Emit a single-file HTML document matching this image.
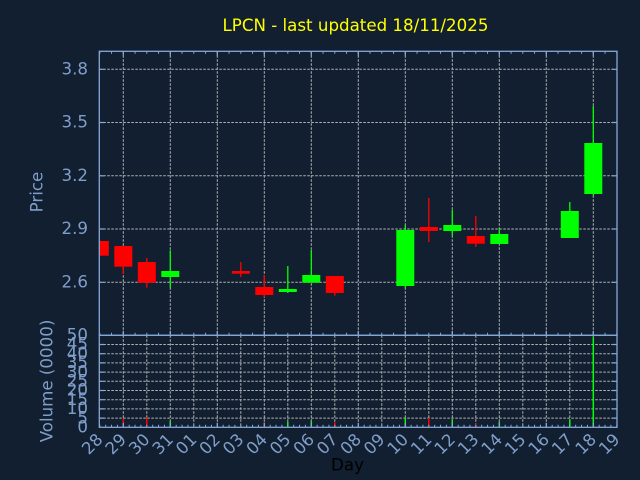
<!DOCTYPE html>
<html>
<head>
<meta charset="utf-8">
<style>
  html, body { margin:0; padding:0; background:#111f30; }
  svg { display:block; }
  text { font-family: "DejaVu Sans", "Liberation Sans", sans-serif; font-size:16.67px; }
  .lbl { fill:#7f9ec9; }
  .grid { stroke:#b4b4b4; stroke-width:1; stroke-dasharray:2.5 1.5; fill:none; }
  .spine { stroke:#85a8d8; stroke-width:1.3; fill:none; }
  .tick { stroke:#85a8d8; fill:none; }
</style>
</head>
<body>
<svg width="640" height="480" viewBox="0 0 640 480" xmlns="http://www.w3.org/2000/svg">
  <rect x="0" y="0" width="640" height="480" fill="#111f30"/>
  <defs>
    <clipPath id="mainclip"><rect x="99.3" y="51.3" width="517.7" height="284"/></clipPath>
  </defs>

  <!-- Title -->
  <text x="355.5" y="31" text-anchor="middle" fill="#ffff00">LPCN - last updated 18/11/2025</text>

  <!-- Main panel horizontal gridlines -->
  <g class="grid">
    <line x1="99.3" y1="69.3" x2="617" y2="69.3"/>
    <line x1="99.3" y1="122.5" x2="617" y2="122.5"/>
    <line x1="99.3" y1="175.8" x2="617" y2="175.8"/>
    <line x1="99.3" y1="229" x2="617" y2="229"/>
    <line x1="99.3" y1="282.3" x2="617" y2="282.3"/>
  </g>
  <!-- Main panel vertical gridlines (every 2 days) -->
  <g class="grid">
    <line x1="123.3" y1="51.3" x2="123.3" y2="335.3"/>
    <line x1="170.3" y1="51.3" x2="170.3" y2="335.3"/>
    <line x1="217.3" y1="51.3" x2="217.3" y2="335.3"/>
    <line x1="264.3" y1="51.3" x2="264.3" y2="335.3"/>
    <line x1="311.3" y1="51.3" x2="311.3" y2="335.3"/>
    <line x1="358.3" y1="51.3" x2="358.3" y2="335.3"/>
    <line x1="405.3" y1="51.3" x2="405.3" y2="335.3"/>
    <line x1="452.3" y1="51.3" x2="452.3" y2="335.3"/>
    <line x1="499.3" y1="51.3" x2="499.3" y2="335.3"/>
    <line x1="546.3" y1="51.3" x2="546.3" y2="335.3"/>
    <line x1="593.3" y1="51.3" x2="593.3" y2="335.3"/>
  </g>

  <!-- Volume panel horizontal gridlines -->
  <g class="grid">
    <line x1="99.3" y1="418.1" x2="617" y2="418.1"/>
    <line x1="99.3" y1="408.9" x2="617" y2="408.9"/>
    <line x1="99.3" y1="399.7" x2="617" y2="399.7"/>
    <line x1="99.3" y1="390.5" x2="617" y2="390.5"/>
    <line x1="99.3" y1="381.3" x2="617" y2="381.3"/>
    <line x1="99.3" y1="372.1" x2="617" y2="372.1"/>
    <line x1="99.3" y1="362.9" x2="617" y2="362.9"/>
    <line x1="99.3" y1="353.7" x2="617" y2="353.7"/>
    <line x1="99.3" y1="344.5" x2="617" y2="344.5"/>
  </g>
  <!-- Volume panel vertical gridlines (every day) -->
  <g class="grid">
    <line x1="123.3" y1="335.3" x2="123.3" y2="427.3"/>
    <line x1="146.8" y1="335.3" x2="146.8" y2="427.3"/>
    <line x1="170.3" y1="335.3" x2="170.3" y2="427.3"/>
    <line x1="193.8" y1="335.3" x2="193.8" y2="427.3"/>
    <line x1="217.3" y1="335.3" x2="217.3" y2="427.3"/>
    <line x1="240.8" y1="335.3" x2="240.8" y2="427.3"/>
    <line x1="264.3" y1="335.3" x2="264.3" y2="427.3"/>
    <line x1="287.8" y1="335.3" x2="287.8" y2="427.3"/>
    <line x1="311.3" y1="335.3" x2="311.3" y2="427.3"/>
    <line x1="334.8" y1="335.3" x2="334.8" y2="427.3"/>
    <line x1="358.3" y1="335.3" x2="358.3" y2="427.3"/>
    <line x1="381.8" y1="335.3" x2="381.8" y2="427.3"/>
    <line x1="405.3" y1="335.3" x2="405.3" y2="427.3"/>
    <line x1="428.8" y1="335.3" x2="428.8" y2="427.3"/>
    <line x1="452.3" y1="335.3" x2="452.3" y2="427.3"/>
    <line x1="475.8" y1="335.3" x2="475.8" y2="427.3"/>
    <line x1="499.3" y1="335.3" x2="499.3" y2="427.3"/>
    <line x1="522.8" y1="335.3" x2="522.8" y2="427.3"/>
    <line x1="546.3" y1="335.3" x2="546.3" y2="427.3"/>
    <line x1="569.8" y1="335.3" x2="569.8" y2="427.3"/>
    <line x1="593.3" y1="335.3" x2="593.3" y2="427.3"/>
  </g>

  <!-- Candles -->
  <g clip-path="url(#mainclip)">
    <!-- red -->
    <g fill="#ff0000" stroke="none">
      <rect x="90.8" y="241" width="18" height="14.7"/>
      <rect x="114.3" y="246" width="18" height="20.7"/>
      <rect x="122.65" y="266" width="1.3" height="8"/>
      <rect x="137.8" y="262" width="18" height="20.7"/>
      <rect x="146.15" y="258" width="1.3" height="29.7"/>
      <rect x="231.8" y="271" width="18" height="2.7"/>
      <rect x="240.15" y="262" width="1.3" height="15"/>
      <rect x="255.3" y="287" width="18" height="8"/>
      <rect x="263.65" y="275" width="1.3" height="22"/>
      <rect x="325.8" y="276" width="18" height="17"/>
      <rect x="334.15" y="276" width="1.3" height="19.7"/>
      <rect x="419.8" y="227" width="18" height="4"/>
      <rect x="428.15" y="198" width="1.3" height="44"/>
      <rect x="466.8" y="236" width="18" height="7.7"/>
      <rect x="475.15" y="216" width="1.3" height="31"/>
    </g>
    <!-- green -->
    <g fill="#00ff00" stroke="none">
      <rect x="161.3" y="271" width="18" height="6"/>
      <rect x="169.65" y="250.3" width="1.3" height="37.4"/>
      <rect x="278.8" y="289" width="18" height="3"/>
      <rect x="287.15" y="266" width="1.3" height="27"/>
      <rect x="302.3" y="275" width="18" height="7.7"/>
      <rect x="310.65" y="250" width="1.3" height="32.7"/>
      <rect x="396.3" y="230" width="18" height="56"/>
      <rect x="404.65" y="225.3" width="1.3" height="62.4"/>
      <rect x="443.3" y="225" width="18" height="6"/>
      <rect x="451.65" y="210" width="1.3" height="25.7"/>
      <rect x="490.3" y="234" width="18" height="10"/>
      <rect x="498.65" y="228" width="1.3" height="16"/>
      <rect x="560.8" y="211" width="18" height="27"/>
      <rect x="569.15" y="202" width="1.3" height="36"/>
      <rect x="584.3" y="143" width="18" height="51"/>
      <rect x="592.65" y="106" width="1.3" height="89.7"/>
    </g>
  </g>

  <!-- Volume bars -->
  <g fill="#ff0000">
    <rect x="122.55" y="418.7" width="1.5" height="8.6"/>
    <rect x="146.05" y="417.3" width="1.5" height="10"/>
    <rect x="240.05" y="425.7" width="1.5" height="1.6"/>
    <rect x="263.55" y="422.3" width="1.5" height="5"/>
    <rect x="334.05" y="422.3" width="1.5" height="5"/>
    <rect x="428.05" y="418" width="1.5" height="9.3"/>
    <rect x="475.05" y="423.7" width="1.5" height="3.6"/>
  </g>
  <g fill="#00ff00">
    <rect x="169.55" y="420.7" width="1.5" height="6.6"/>
    <rect x="287.05" y="421.7" width="1.5" height="5.6"/>
    <rect x="310.55" y="420.7" width="1.5" height="6.6"/>
    <rect x="404.55" y="418" width="1.5" height="9.3"/>
    <rect x="451.55" y="419.3" width="1.5" height="8"/>
    <rect x="498.55" y="421.7" width="1.5" height="5.6"/>
    <rect x="569.05" y="419.3" width="1.5" height="8"/>
    <rect x="592.55" y="337.3" width="1.5" height="90"/>
  </g>

  <!-- Ticks: minor via dash trick -->
  <g class="tick">
    <!-- main top half-day minor ticks -->
    <line x1="99.3" y1="52.55" x2="617" y2="52.55" stroke-width="2.5" stroke-dasharray="1 10.75"/>
    <!-- main bottom half-day minor ticks -->
    <line x1="99.3" y1="334.05" x2="617" y2="334.05" stroke-width="2.5" stroke-dasharray="1 10.75"/>
    <!-- volume bottom quarter-day minor ticks -->
    <line x1="99.3" y1="426.05" x2="617" y2="426.05" stroke-width="2.5" stroke-dasharray="1 4.875"/>
  </g>
  <!-- Major x ticks -->
  <g class="tick" stroke-width="1.2">
    <path d="M123.3 51.3v4.5 M170.3 51.3v4.5 M217.3 51.3v4.5 M264.3 51.3v4.5 M311.3 51.3v4.5 M358.3 51.3v4.5 M405.3 51.3v4.5 M452.3 51.3v4.5 M499.3 51.3v4.5 M546.3 51.3v4.5 M593.3 51.3v4.5"/>
    <path d="M123.3 335.3v-4.5 M170.3 335.3v-4.5 M217.3 335.3v-4.5 M264.3 335.3v-4.5 M311.3 335.3v-4.5 M358.3 335.3v-4.5 M405.3 335.3v-4.5 M452.3 335.3v-4.5 M499.3 335.3v-4.5 M546.3 335.3v-4.5 M593.3 335.3v-4.5"/>
    <path d="M123.3 427.3v-4.5 M170.3 427.3v-4.5 M217.3 427.3v-4.5 M264.3 427.3v-4.5 M311.3 427.3v-4.5 M358.3 427.3v-4.5 M405.3 427.3v-4.5 M452.3 427.3v-4.5 M499.3 427.3v-4.5 M546.3 427.3v-4.5 M593.3 427.3v-4.5"/>
    <!-- price y ticks left/right -->
    <path d="M99.3 69.3h5 M99.3 122.5h5 M99.3 175.8h5 M99.3 229h5 M99.3 282.3h5"/>
    <path d="M617 69.3h-5 M617 122.5h-5 M617 175.8h-5 M617 229h-5 M617 282.3h-5"/>
    <!-- volume y ticks left/right -->
    <path d="M99.3 418.1h5 M99.3 408.9h5 M99.3 399.7h5 M99.3 390.5h5 M99.3 381.3h5 M99.3 372.1h5 M99.3 362.9h5 M99.3 353.7h5 M99.3 344.5h5"/>
    <path d="M617 418.1h-5 M617 408.9h-5 M617 399.7h-5 M617 390.5h-5 M617 381.3h-5 M617 372.1h-5 M617 362.9h-5 M617 353.7h-5 M617 344.5h-5"/>
  </g>

  <!-- Spines -->
  <rect class="spine" x="99.3" y="51.3" width="517.7" height="284"/>
  <rect class="spine" x="99.3" y="335.3" width="517.7" height="92"/>

  <!-- Price tick labels -->
  <g class="lbl" text-anchor="end">
    <text x="88" y="74.5">3.8</text>
    <text x="88" y="127.7">3.5</text>
    <text x="88" y="181">3.2</text>
    <text x="88" y="234.2">2.9</text>
    <text x="88" y="287.5">2.6</text>
  </g>

  <!-- Volume tick labels (overlapping as in reference) -->
  <g class="lbl" text-anchor="end">
    <text x="88" y="432.5">0</text>
    <text x="88" y="423.3">5</text>
    <text x="88" y="414.1">10</text>
    <text x="88" y="404.9">15</text>
    <text x="88" y="395.7">20</text>
    <text x="88" y="386.5">25</text>
    <text x="88" y="377.3">30</text>
    <text x="88" y="368.1">35</text>
    <text x="88" y="358.9">40</text>
    <text x="88" y="349.7">45</text>
    <text x="88" y="340.5">50</text>
  </g>

  <!-- Axis labels -->
  <text class="lbl" x="42.5" y="192" text-anchor="middle" transform="rotate(-90 42.5 192)">Price</text>
  <text class="lbl" x="52.7" y="381" text-anchor="middle" transform="rotate(-90 52.7 381)">Volume (0000)</text>
  <text x="347.5" y="470.7" text-anchor="middle" fill="#000000">Day</text>

  <!-- X tick labels rotated 45 -->
  <g class="lbl" text-anchor="end">
    <text x="103.8" y="440.5" transform="rotate(-45 103.8 440.5)">28</text>
    <text x="127.3" y="440.5" transform="rotate(-45 127.3 440.5)">29</text>
    <text x="150.8" y="440.5" transform="rotate(-45 150.8 440.5)">30</text>
    <text x="174.3" y="440.5" transform="rotate(-45 174.3 440.5)">31</text>
    <text x="197.8" y="440.5" transform="rotate(-45 197.8 440.5)">01</text>
    <text x="221.3" y="440.5" transform="rotate(-45 221.3 440.5)">02</text>
    <text x="244.8" y="440.5" transform="rotate(-45 244.8 440.5)">03</text>
    <text x="268.3" y="440.5" transform="rotate(-45 268.3 440.5)">04</text>
    <text x="291.8" y="440.5" transform="rotate(-45 291.8 440.5)">05</text>
    <text x="315.3" y="440.5" transform="rotate(-45 315.3 440.5)">06</text>
    <text x="338.8" y="440.5" transform="rotate(-45 338.8 440.5)">07</text>
    <text x="362.3" y="440.5" transform="rotate(-45 362.3 440.5)">08</text>
    <text x="385.8" y="440.5" transform="rotate(-45 385.8 440.5)">09</text>
    <text x="409.3" y="440.5" transform="rotate(-45 409.3 440.5)">10</text>
    <text x="432.8" y="440.5" transform="rotate(-45 432.8 440.5)">11</text>
    <text x="456.3" y="440.5" transform="rotate(-45 456.3 440.5)">12</text>
    <text x="479.8" y="440.5" transform="rotate(-45 479.8 440.5)">13</text>
    <text x="503.3" y="440.5" transform="rotate(-45 503.3 440.5)">14</text>
    <text x="526.8" y="440.5" transform="rotate(-45 526.8 440.5)">15</text>
    <text x="550.3" y="440.5" transform="rotate(-45 550.3 440.5)">16</text>
    <text x="573.8" y="440.5" transform="rotate(-45 573.8 440.5)">17</text>
    <text x="597.3" y="440.5" transform="rotate(-45 597.3 440.5)">18</text>
    <text x="620.8" y="440.5" transform="rotate(-45 620.8 440.5)">19</text>
  </g>
</svg>
</body>
</html>
